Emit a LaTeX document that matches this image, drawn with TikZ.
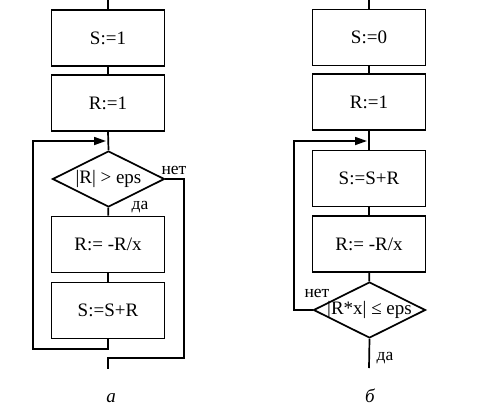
\documentclass[tikz,border=0pt]{standalone}
\usepackage{fontspec}
\setmainfont{Liberation Serif}
\usetikzlibrary{shapes.geometric,arrows.meta}
\begin{document}
\begin{tikzpicture}[x=1pt,y=-1pt,
  line width=1.7pt,
  box/.style={draw,rectangle,minimum width=113pt,minimum height=56pt,inner sep=0pt,
    font=\fontsize{19}{20}\selectfont},
  dia/.style={draw,diamond,minimum width=112pt,minimum height=56pt,inner sep=0pt,
    font=\fontsize{19}{20}\selectfont},
  lbl/.style={inner sep=0pt,font=\fontsize{17.5}{18}\selectfont},
  figcap/.style={inner sep=0pt,font=\fontsize{19}{20}\selectfont\itshape},
  arr/.style={-{Triangle[length=12pt,width=8pt]}}
]
\useasboundingbox (0,0) rectangle (485,410);
% ---------- left (a) ----------
\coordinate (ta) at (108,0);
\node[box] (s1) at (108,38) {S:=1};
\node[box] (r1) at (108,103) {R:=1};
\coordinate (ja) at (108,141);
\node[dia] (d1) at (108.5,179) {\makebox[0pt]{|R| > eps}};
\node[box] (r2) at (108,244.5) {R:= -R/x};
\node[box] (s2) at (108,310.5) {S:=S+R};
\coordinate (la1) at (108,349);
\coordinate (la2) at (33,349);
\coordinate (la3) at (33,141);
\coordinate (na1) at (184,179);
\coordinate (na2) at (184,358);
\coordinate (na3) at (108,358);
\coordinate (na4) at (108,369);
\draw (ta) -- (s1.north);
\draw (s1) -- (r1);
\draw (r1.south) -- (d1.north);
\draw (d1) -- (r2);
\draw (r2) -- (s2);
\draw[arr,shorten >=2pt] (s2.south) -- (la1) -- (la2) -- (la3) -- (ja);
\draw (d1.east) -- (na1) -- (na2) -- (na3) -- (na4);
\node[lbl] (net1) at (174,170) {нет};
\node[lbl] (da1) at (140,207) {да};
\node[figcap] (ca) at (111,398) {а};
% ---------- right (b) ----------
\coordinate (tb) at (369,0);
\node[box] (s3) at (369,37.5) {S:=0};
\node[box] (r3) at (369,102) {R:=1};
\coordinate (jb) at (369,141);
\node[box] (s4) at (369,178.5) {S:=S+R};
\node[box] (r4) at (369,244) {R:= -R/x};
\node[dia] (d2) at (369.5,310) {\makebox[0pt]{|R*x| ≤ eps}};
\coordinate (lb1) at (294,310);
\coordinate (lb2) at (294,141);
\coordinate (eb) at (369,368);
\draw (tb) -- (s3.north);
\draw (s3) -- (r3);
\draw (r3.south) -- (s4.north);
\draw (s4) -- (r4);
\draw (r4) -- (d2);
\draw[arr,shorten >=2pt] (d2.west) -- (lb1) -- (lb2) -- (jb);
\draw (d2.south) -- (eb);
\node[lbl] (net2) at (317,293) {нет};
\node[lbl] (da2) at (385,358) {да};
\node[figcap] (cb) at (370,396) {б};
\end{tikzpicture}
\end{document}
